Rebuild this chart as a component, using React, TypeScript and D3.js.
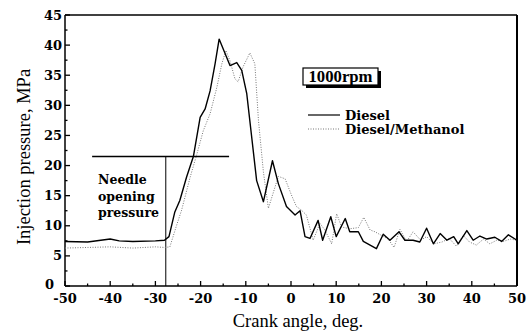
import React from "react";
import * as d3 from "d3";

const dieselX = [-50,-45,-40,-38,-35,-30,-28,-27,-25.7,-24.6,-23.1,-21.6,-20.1,-19,-17.9,-16.8,-15.9,-13.5,-12,-10.9,-9.8,-7.6,-6.1,-4.1,-2.8,-1,0.9,2,3.1,4.2,6,7,8.8,10,12,13,14.9,16,18.9,20.4,21.9,23.9,25.2,27,28.5,30,31.5,33,34.5,36,37,38.9,40.3,41.8,43.3,45.1,46.6,48.1,50];
const dieselY = [7.4,7.3,7.8,7.5,7.4,7.5,7.6,8.2,12.3,14.2,18.1,21.5,28,29.4,32.4,36.9,41,36.6,37.1,35.8,32,17.5,14,20.8,17,13.2,11.8,12.5,8.2,7.9,10.9,7.6,11.5,8.2,11.2,9,9,7.4,6.2,8.6,7.6,9,7.6,7.6,7.3,9.6,7,8.7,7.6,8.2,7,9.2,7.6,8.3,7.8,8.1,7.4,8.5,7.6];

const methX = [-50,-45,-40,-35,-30,-28,-26.8,-25.3,-24.2,-22.3,-20.9,-19.4,-17.9,-16.4,-15.3,-14.4,-13.5,-12.4,-11.7,-10.6,-9.1,-8,-7.2,-6.1,-5,-2.8,-1.3,0.1,1.2,2.3,3.4,4.9,6.4,7.5,9,10.1,11.2,13,14.9,16.1,17.5,18.6,20,21.5,22.8,24.1,25.6,27,28.7,30,31.6,33.4,35,36.6,38.1,39.5,41,42.6,44,45.5,47,48.5,50];
const methY = [6.3,6.4,6.5,6.3,6.5,6.4,6.5,10.1,12.6,18.1,21.7,25.8,28.6,33,36.9,39.1,37.4,34.4,33.9,36.4,38.7,36.9,27.5,18.9,12.9,18.2,17.8,15.1,13.2,12.6,11.8,7.6,10.4,9.3,7,12,9.8,9.5,9.7,11.4,9.3,9,8.4,7.8,6.4,9.4,7.4,9,7.6,8.2,7,7.3,7.9,6.6,8.4,7.3,6.8,7.8,7,7.6,7.4,7.8,7.6];

const xTicks = [-50,-40,-30,-20,-10,0,10,20,30,40,50];
const yTicks = [0,5,10,15,20,25,30,35,40,45];
const xMinor = [-45,-35,-25,-15,-5,5,15,25,35,45];
const yMinor = [2.5,7.5,12.5,17.5,22.5,27.5,32.5,37.5,42.5];

const needleAngle = -27.7;
const needlePressure = 21.5;
const needleLineStart = -44;
const needleLineEnd = -13.7;
const needleLabel = ["Needle", "opening", "pressure"];
const speedLabel = "1000rpm";
const seriesNames = ["Diesel", "Diesel/Methanol"];
const xTitle = "Crank angle, deg.";
const yTitle = "Injection pressure, MPa";

export default function App() {
  const W = 530, H = 331;
  const L = 65, R = 517, T = 15, B = 286;
  const x = d3.scaleLinear().domain([-50, 50]).range([L, R]);
  const y = d3.scaleLinear().domain([0, 45]).range([B, T]);
  const mk = (xs: number[], ys: number[]) =>
    d3.line<number>().x((d) => x(d)).y((_, i) => y(ys[i])).curve(d3.curveLinear)(xs) || "";
  const serif = "Liberation Serif, Times New Roman, serif";
  const slab = "DejaVu Serif, serif";
  return (
    <svg width={W} height={H} style={{ position: "absolute", left: 0, top: 0, background: "#fff" }}>
      <rect x={0} y={0} width={W} height={H} fill="#fff" />
      {/* frame */}
      <line x1={L} y1={T} x2={R} y2={T} stroke="#000" strokeWidth={1.5} />
      <line x1={R} y1={T} x2={R} y2={B} stroke="#000" strokeWidth={2} />
      <line x1={L} y1={T} x2={L} y2={B} stroke="#000" strokeWidth={1.5} />
      <line x1={L} y1={B} x2={R} y2={B} stroke="#000" strokeWidth={1.5} />
      {xTicks.map((t) => (
        <g key={"xt" + t}>
          <line x1={x(t)} x2={x(t)} y1={B} y2={B - 5} stroke="#000" strokeWidth={1.3} />
          <text x={x(t)} y={B + 17} textAnchor="middle" fontFamily={slab} fontWeight="bold" fontSize={13}>
            {t}
          </text>
        </g>
      ))}
      {xMinor.map((t) => (
        <line key={"xm" + t} x1={x(t)} x2={x(t)} y1={B} y2={B - 2.5} stroke="#000" strokeWidth={1.3} />
      ))}
      {yTicks.map((t) => (
        <g key={"yt" + t}>
          <line x1={L} x2={L + 5} y1={y(t)} y2={y(t)} stroke="#000" strokeWidth={1.3} />
          <text
            x={t === 0 ? L - 11 : L - 3}
            y={y(t) + (t === 0 ? 3 : 4.5)}
            textAnchor="end"
            fontFamily={slab}
            fontWeight="bold"
            fontSize={13}
          >
            {t}
          </text>
        </g>
      ))}
      {yMinor.map((t) => (
        <line key={"ym" + t} x1={L} x2={L + 2.5} y1={y(t)} y2={y(t)} stroke="#000" strokeWidth={1.3} />
      ))}
      <text x={298} y={327} textAnchor="middle" fontFamily={serif} fontSize={18.5}>
        {xTitle}
      </text>
      <text
        transform={`translate(30,157) rotate(-90)`}
        textAnchor="middle"
        fontFamily={serif}
        fontSize={18.5}
      >
        {yTitle}
      </text>
      {/* needle opening marker */}
      <line x1={x(needleLineStart)} x2={x(needleLineEnd)} y1={y(needlePressure)} y2={y(needlePressure)} stroke="#000" strokeWidth={1.5} />
      <line x1={x(needleAngle)} x2={x(needleAngle)} y1={y(needlePressure)} y2={B} stroke="#000" strokeWidth={1} />
      {needleLabel.map((s, i) => (
        <text key={s} x={98} y={184 + i * 16.5} fontFamily={slab} fontWeight="bold" fontSize={12.5}>
          {s}
        </text>
      ))}
      {/* series */}
      <path d={mk(methX, methY)} fill="none" stroke="#777" strokeWidth={1} strokeDasharray="1,1.5" />
      <path d={mk(dieselX, dieselY)} fill="none" stroke="#000" strokeWidth={1.4} strokeLinejoin="round" />
      {/* speed box */}
      <rect x={306} y={71} width={75} height={17} fill="#000" />
      <rect x={303} y={68} width={75} height={17} fill="#fff" stroke="#000" strokeWidth={1.2} />
      <text x={340.5} y={81.5} textAnchor="middle" fontFamily={serif} fontWeight="bold" fontSize={17} textLength={64} lengthAdjust="spacingAndGlyphs">
        {speedLabel}
      </text>
      {/* legend */}
      <line x1={308} x2={340} y1={115} y2={115} stroke="#000" strokeWidth={1.2} />
      <text x={345} y={119.5} fontFamily={slab} fontWeight="bold" fontSize={13}>
        {seriesNames[0]}
      </text>
      <line x1={308} x2={340} y1={129} y2={129} stroke="#777" strokeWidth={1} strokeDasharray="1,1.5" />
      <text x={345} y={133.5} fontFamily={slab} fontWeight="bold" fontSize={13}>
        {seriesNames[1]}
      </text>
    </svg>
  );
}
